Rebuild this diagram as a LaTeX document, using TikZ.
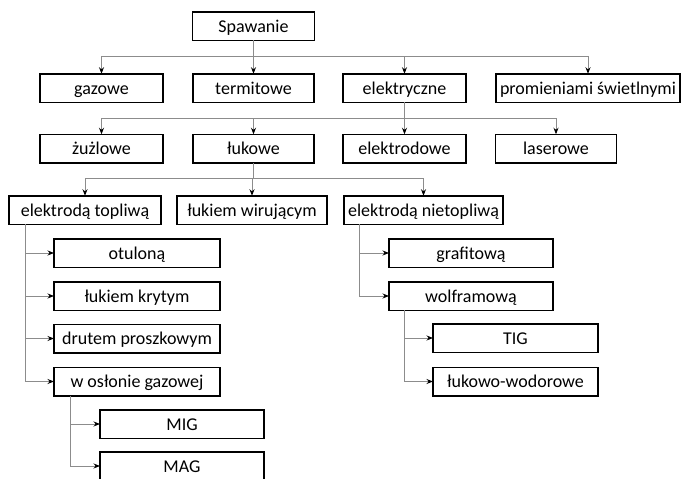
\documentclass[tikz,border=0pt]{standalone}
\usepackage{fontspec}
\setmainfont{Carlito}
\usetikzlibrary{arrows.meta}
\definecolor{lineg}{RGB}{140,140,140}
\tikzset{
  box/.style={draw=black, line width=1.5pt, fill=white, inner sep=0pt, outer sep=0pt,
    minimum height=28.5pt, text height=13pt, text depth=1pt,
    font=\fontsize{18}{21}\selectfont, anchor=center},
  conn/.style={draw=lineg, line width=0.8pt},
  arr/.style={conn, -{Stealth[length=6.5pt,width=5pt,color=black]}},
}
\begin{document}
\begin{tikzpicture}[x=1pt,y=-1pt]
\useasboundingbox (0,0) rectangle (681,479);
% row 1
\node[box, minimum width=122pt] (spaw) at (253.5,26) {Spawanie};
% row 2
\node[box, minimum width=123pt] (gaz) at (101.5,88) {gazowe};
\node[box, minimum width=121pt] (term) at (253.5,88) {termitowe};
\node[box, minimum width=123pt] (elek) at (404.5,88) {elektryczne};
\node[box, minimum width=184pt] (prom) at (588,88) {promieniami świetlnymi};
% row 3
\node[box, minimum width=123pt] (zuz) at (101.5,148.5) {żużlowe};
\node[box, minimum width=121pt] (luk) at (253.5,148.5) {łukowe};
\node[box, minimum width=123pt] (elekd) at (404.5,148.5) {elektrodowe};
\node[box, minimum width=121pt] (las) at (556,148.5) {laserowe};
% row 4
\node[box, minimum width=152pt] (etop) at (85,210) {elektrodą topliwą};
\node[box, minimum width=150pt] (lwir) at (252,210) {łukiem wirującym};
\node[box, minimum width=159pt] (enie) at (423.5,210) {elektrodą nietopliwą};
% left column
\node[box, minimum width=166pt] (otul) at (137,253) {otuloną};
\node[box, minimum width=166pt] (lkry) at (137,296) {łukiem krytym};
\node[box, minimum width=166pt] (drut) at (137,338.5) {drutem proszkowym};
\node[box, minimum width=166pt] (woslo) at (137,381.5) {w osłonie gazowej};
\node[box, minimum width=164pt] (mig) at (182,424) {MIG};
\node[box, minimum width=164pt] (mag) at (182,466) {MAG};
% right column
\node[box, minimum width=164pt] (graf) at (471,253) {grafitową};
\node[box, minimum width=164pt] (wolf) at (471,296) {wolframową};
\node[box, minimum width=165pt] (tig) at (515.5,338) {TIG};
\node[box, minimum width=165pt] (lwod) at (515.5,381.5) {łukowo-wodorowe};
% connectors row1->row2
\coordinate (j1) at (253.5,56.7);
\draw[conn] (spaw.south) -- (j1);
\draw[arr] (j1) -| (gaz.north);
\draw[arr] (j1) -- (term.north);
\draw[arr] (j1) -| (elek.north);
\draw[arr] (j1) -| (prom.north);
% row2->row3
\coordinate (j2) at (404.5,118);
\draw[conn] (elek.south) -- (j2);
\draw[arr] (j2) -| (zuz.north);
\draw[arr] (j2) -| (luk.north);
\draw[arr] (j2) -- (elekd.north);
\draw[arr] (j2) -| (las.north);
% row3->row4
\coordinate (j3) at (253.5,178);
\draw[conn] (luk.south) -- (j3);
\draw[arr] (j3) -| (etop.north);
\draw[arr] (j3) -| (lwir.north);
\draw[arr] (j3) -| (enie.north);
% left column
\draw[arr] ([xshift=16pt]etop.south west) |- (otul.west);
\draw[arr] ([xshift=16pt]etop.south west) |- (lkry.west);
\draw[arr] ([xshift=16pt]etop.south west) |- (drut.west);
\draw[arr] ([xshift=16pt]etop.south west) |- (woslo.west);
\draw[arr] ([xshift=16pt]woslo.south west) |- (mig.west);
\draw[arr] ([xshift=16pt]woslo.south west) |- (mag.west);
% right column
\draw[arr] ([xshift=15pt]enie.south west) |- (graf.west);
\draw[arr] ([xshift=15pt]enie.south west) |- (wolf.west);
\draw[arr] ([xshift=15pt]wolf.south west) |- (tig.west);
\draw[arr] ([xshift=15pt]wolf.south west) |- (lwod.west);
\end{tikzpicture}
\end{document}
